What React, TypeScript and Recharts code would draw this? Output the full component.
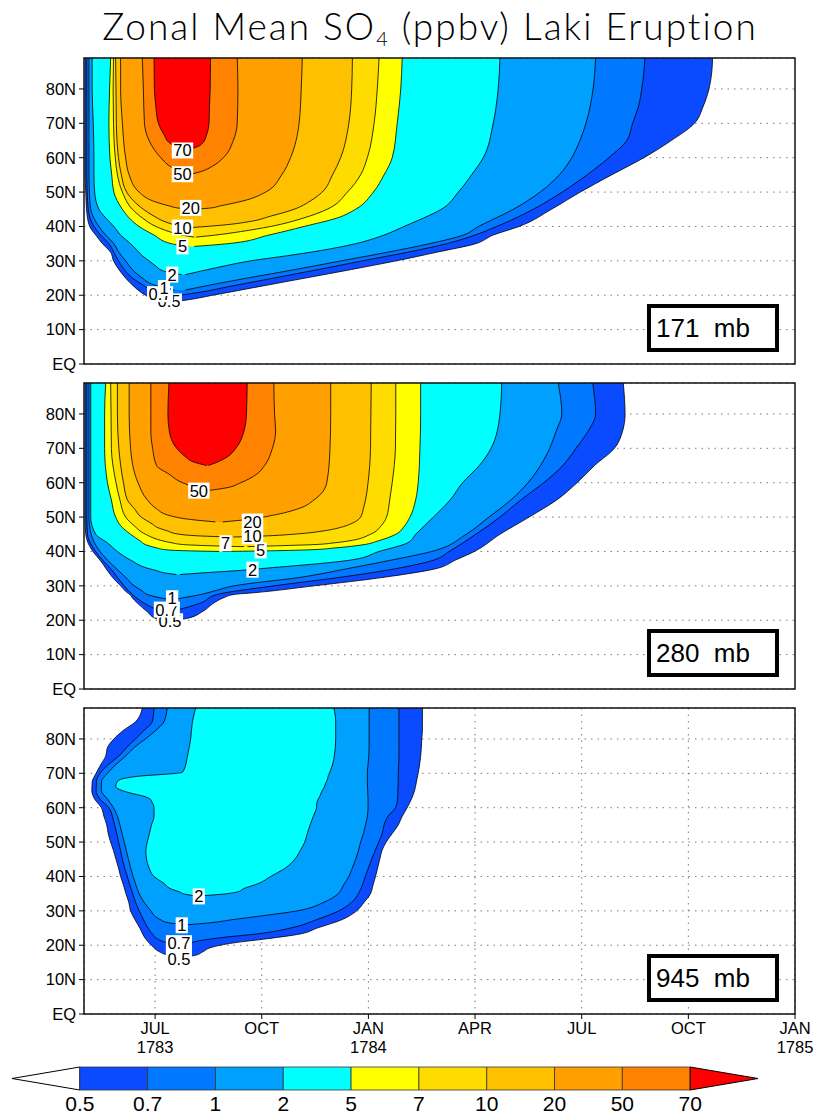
import React from 'react';
import { ComposedChart, Area, XAxis, YAxis, CartesianGrid, Scatter, BarChart, Bar } from 'recharts';

type Pt = [number, number, number]; // [latitude, left edge (month), right edge (month)]

const LEVELS = ['0.5', '0.7', '1', '2', '5', '7', '10', '20', '50', '70'];
const COLORS = ['#0a4bff', '#0078ff', '#00a0ff', '#00ffff', '#ffff00', '#ffdc00', '#ffc000', '#ffa000', '#ff8200', '#ff0000'];

const X_TICKS = [6, 9, 12, 15, 18, 21, 24];
const X_MONTH = ['JUL', 'OCT', 'JAN', 'APR', 'JUL', 'OCT', 'JAN'];
const X_YEAR = ['1783', '', '1784', '', '', '', '1785'];
const Y_TICKS = [0, 10, 20, 30, 40, 50, 60, 70, 80];

// ---------- 171 mb ----------
const P1_05: Pt[] = [[18.0, 6.35, 6.4], [18.5, 6.02, 6.81], [20, 5.73, 7.62], [22.5, 5.41, 8.92], [25, 5.17, 10.23], [27.5, 4.98, 11.53], [30, 4.83, 12.78], [32.5, 4.75, 13.92], [35, 4.52, 15.02], [37.5, 4.33, 15.51], [40, 4.16, 16.24], [45, 4.07, 17.15], [50, 4.05, 17.96], [55, 4.03, 18.84], [60, 4.03, 19.75], [65, 4.03, 20.52], [70, 4.03, 21.17], [75, 4.03, 21.42], [80, 4.03, 21.58], [85, 4.03, 21.66], [89, 4.03, 21.68]];
const P1_07: Pt[] = [[19.8, 6.3, 6.55], [21, 5.92, 7.34], [22.5, 5.73, 8.07], [25, 5.36, 9.34], [27.5, 5.13, 10.61], [30, 4.97, 11.83], [32.5, 4.84, 13.1], [35, 4.7, 14.2], [37.5, 4.47, 15.0], [40, 4.28, 15.61], [45, 4.12, 16.64], [50, 4.09, 17.45], [55, 4.08, 18.15], [60, 4.08, 18.76], [65, 4.08, 19.27], [70, 4.08, 19.43], [75, 4.08, 19.6], [80, 4.08, 19.69], [89, 4.08, 19.78]];
const P1_1: Pt[] = [[21.5, 6.55, 6.85], [23, 5.97, 7.56], [25, 5.64, 8.6], [27.5, 5.36, 9.95], [30, 5.17, 11.24], [32.5, 4.98, 12.53], [35, 4.84, 13.73], [37.5, 4.61, 14.67], [40, 4.42, 15.1], [45, 4.19, 16.08], [50, 4.15, 16.83], [55, 4.14, 17.37], [60, 4.14, 17.72], [65, 4.14, 17.95], [70, 4.14, 18.12], [80, 4.14, 18.32], [89, 4.14, 18.39]];
const P1_2: Pt[] = [[26, 6.75, 6.85], [27, 6.25, 7.28], [28.5, 6.02, 7.94], [30, 5.83, 8.69], [31.5, 5.64, 9.72], [33, 5.5, 10.66], [35, 5.31, 11.64], [37.5, 5.03, 12.44], [40, 4.84, 13.0], [42.5, 4.61, 13.56], [45, 4.42, 14.05], [50, 4.3, 14.53], [55, 4.28, 14.9], [60, 4.28, 15.23], [70, 4.26, 15.51], [80, 4.23, 15.65], [89, 4.23, 15.7]];
const P1_5: Pt[] = [[34.2, 6.95, 7.1], [35, 6.45, 8.05], [37.5, 5.97, 9.2], [40, 5.55, 10.19], [42.5, 5.27, 11.13], [45, 5.08, 11.64], [50, 4.84, 12.14], [55, 4.78, 12.44], [60, 4.73, 12.67], [70, 4.7, 12.81], [80, 4.72, 12.91], [89, 4.75, 12.95]];
const P1_7: Pt[] = [[36.9, 7.1, 7.15], [37.5, 6.75, 7.7], [38.5, 6.4, 8.4], [40, 6.02, 9.25], [42.5, 5.64, 10.19], [45, 5.36, 10.84], [50, 5.08, 11.41], [55, 4.94, 11.78], [60, 4.88, 11.97], [70, 4.83, 12.16], [80, 4.82, 12.25], [89, 4.83, 12.3]];
const P1_10: Pt[] = [[39.7, 6.95, 7.05], [40.5, 6.55, 8.0], [41.5, 6.25, 8.7], [43, 5.97, 9.25], [45, 5.67, 9.91], [47.5, 5.39, 10.38], [50, 5.2, 10.7], [55, 5.05, 10.99], [60, 4.97, 11.22], [70, 4.91, 11.45], [80, 4.9, 11.53], [89, 4.89, 11.55]];
const P1_20: Pt[] = [[45.0, 7.05, 7.1], [45.3, 6.7, 7.5], [46, 6.39, 7.84], [47.5, 5.92, 8.5], [50, 5.55, 9.11], [55, 5.27, 9.56], [60, 5.17, 9.81], [70, 5.08, 10.05], [80, 5.03, 10.11], [89, 5.03, 10.14]];
const P1_50: Pt[] = [[55.3, 7.0, 7.05], [56, 6.7, 7.3], [57.5, 6.42, 7.61], [60, 6.16, 7.92], [65, 5.83, 8.2], [70, 5.7, 8.31], [80, 5.67, 8.33], [89, 5.64, 8.31]];
const P1_70: Pt[] = [[62.5, 6.9, 6.95], [63, 6.67, 7.14], [64.2, 6.42, 7.33], [66.7, 6.25, 7.45], [70.5, 6.08, 7.52], [75, 6.02, 7.53], [80, 5.98, 7.55], [89, 5.97, 7.56]];
const P1_LABELS = [
  { m: 6.39, lat: 18.2, t: '0.5' }, { m: 6.14, lat: 20.3, t: '0.7' }, { m: 6.25, lat: 22.1, t: '1' },
  { m: 6.48, lat: 26.0, t: '2' }, { m: 6.77, lat: 34.2, t: '5' }, { m: 6.77, lat: 39.7, t: '10' },
  { m: 7.0, lat: 45.4, t: '20' }, { m: 6.77, lat: 55.2, t: '50' }, { m: 6.77, lat: 62.1, t: '70' },
];

// ---------- 280 mb ----------
const P2_05: Pt[] = [[19.9, 6.4, 6.5], [20.5, 6.02, 6.88], [22.5, 5.78, 7.33], [25, 5.5, 7.65], [26.5, 5.36, 7.92], [27.5, 5.29, 8.22], [28, 5.22, 8.78], [30, 5.03, 10.47], [32.5, 4.8, 12.44], [35, 4.62, 13.9], [37.5, 4.45, 14.45], [40, 4.25, 14.98], [45, 4.05, 15.7], [50, 4.03, 16.52], [55, 4.03, 17.3], [60, 4.03, 17.87], [65, 4.03, 18.36], [70, 4.03, 18.92], [75, 4.03, 19.15], [80, 4.03, 19.22], [89, 4.03, 19.17]];
const P2_07: Pt[] = [[22.5, 6.3, 6.4], [23.5, 5.97, 6.81], [25, 5.69, 7.28], [27.5, 5.36, 7.75], [30, 5.13, 9.34], [32.5, 4.94, 11.22], [35, 4.75, 12.77], [37.5, 4.52, 13.84], [40, 4.33, 14.27], [45, 4.1, 15.02], [50, 4.08, 15.7], [55, 4.08, 16.29], [60, 4.08, 16.93], [65, 4.08, 17.47], [70, 4.08, 17.84], [75, 4.08, 18.18], [80, 4.08, 18.39], [89, 4.08, 18.31]];
const P2_1: Pt[] = [[26, 6.44, 6.5], [26.5, 6.16, 6.77], [27.5, 5.78, 7.29], [28.5, 5.64, 7.66], [30, 5.41, 8.22], [32.5, 5.17, 10.1], [35, 4.91, 11.41], [37.5, 4.66, 12.65], [40, 4.45, 13.78], [45, 4.2, 14.75], [50, 4.14, 15.39], [55, 4.14, 16.01], [60, 4.14, 16.49], [65, 4.14, 16.84], [70, 4.14, 17.1], [75, 4.14, 17.28], [80, 4.14, 17.44], [89, 4.14, 17.34]];
const P2_2: Pt[] = [[33.3, 6.6, 6.7], [33.8, 6.25, 7.37], [34.5, 6.02, 8.41], [35, 5.83, 8.97], [37.5, 5.31, 11.5], [40, 4.94, 12.3], [42.5, 4.66, 13.1], [45, 4.33, 13.33], [50, 4.19, 13.83], [55, 4.19, 14.3], [60, 4.19, 14.65], [65, 4.19, 15.12], [70, 4.19, 15.45], [80, 4.19, 15.7], [89, 4.19, 15.75]];
const P2_5: Pt[] = [[40.0, 7.8, 7.9], [40.2, 6.9, 9.25], [40.5, 6.3, 10.38], [41, 6.06, 11.03], [42, 5.73, 11.88], [43, 5.59, 12.25], [45, 5.31, 12.77], [47.5, 5.03, 13.02], [50, 4.89, 13.17], [55, 4.77, 13.33], [60, 4.66, 13.4], [70, 4.58, 13.45], [80, 4.58, 13.47], [89, 4.61, 13.47]];
const P2_7: Pt[] = [[41.4, 8.5, 8.6], [41.6, 7.75, 9.25], [42, 6.81, 10.47], [42.5, 6.48, 11.03], [43, 6.25, 11.41], [45, 5.73, 12.06], [47.5, 5.41, 12.36], [50, 5.17, 12.51], [55, 5.01, 12.6], [60, 4.9, 12.67], [70, 4.77, 12.76], [80, 4.76, 12.77], [89, 4.75, 12.77]];
const P2_10: Pt[] = [[44.2, 8.1, 8.2], [44.5, 7.3, 9.06], [45.1, 6.63, 10.0], [46, 6.34, 10.75], [47, 6.06, 11.22], [48, 5.92, 11.5], [50, 5.61, 11.78], [52.5, 5.41, 11.86], [55, 5.22, 11.92], [60, 5.11, 11.99], [70, 4.98, 12.06], [80, 4.94, 12.07], [89, 4.94, 12.08]];
const P2_20: Pt[] = [[48.6, 7.7, 7.9], [49.3, 7.0, 8.6], [50.5, 6.39, 9.3], [52.5, 6.03, 10.05], [55, 5.78, 10.47], [60, 5.52, 10.83], [70, 5.31, 10.92], [80, 5.27, 10.94], [89, 5.27, 10.94]];
const P2_50: Pt[] = [[57.8, 7.5, 7.55], [58.5, 7.2, 8.0], [60, 6.77, 8.41], [62.5, 6.39, 8.86], [65, 6.04, 9.08], [70, 5.93, 9.3], [75, 5.88, 9.39], [80, 5.88, 9.36], [89, 5.88, 9.34]];
const P2_70: Pt[] = [[65, 7.45, 7.5], [66, 7.09, 7.75], [67.5, 6.86, 8.03], [70, 6.61, 8.27], [75, 6.4, 8.5], [80, 6.36, 8.57], [89, 6.39, 8.59]];
const P2_LABELS = [
  { m: 6.42, lat: 19.7, t: '0.5' }, { m: 6.33, lat: 23.1, t: '0.7' }, { m: 6.48, lat: 26.4, t: '1' },
  { m: 8.74, lat: 34.7, t: '2' }, { m: 8.97, lat: 40.3, t: '5' }, { m: 7.98, lat: 42.4, t: '7' },
  { m: 8.74, lat: 44.4, t: '10' }, { m: 8.74, lat: 48.7, t: '20' }, { m: 7.23, lat: 57.7, t: '50' },
];

// ---------- 945 mb ----------
const P3_05: Pt[] = [[16.6, 6.8, 6.85], [17.1, 6.39, 7.14], [18.0, 6.14, 7.33], [19.3, 5.97, 7.56], [20.7, 5.83, 8.22], [21.9, 5.73, 9.16], [23.3, 5.65, 10.09], [25, 5.57, 10.56], [27.5, 5.43, 11.27], [30, 5.31, 11.67], [32.5, 5.26, 11.88], [35, 5.18, 12.06], [37.5, 5.11, 12.13], [40, 5.03, 12.2], [42.5, 4.97, 12.26], [45, 4.9, 12.32], [47.5, 4.83, 12.38], [50, 4.75, 12.5], [52.5, 4.68, 12.67], [55, 4.64, 12.84], [57.5, 4.56, 12.95], [60, 4.49, 13.09], [62.5, 4.3, 13.21], [65, 4.22, 13.3], [67.5, 4.23, 13.35], [70, 4.34, 13.4], [72.5, 4.47, 13.44], [75, 4.61, 13.47], [77.5, 4.66, 13.49], [80, 4.84, 13.5], [82.5, 5.11, 13.52], [85, 5.45, 13.52], [89, 5.64, 13.52]];
const P3_07: Pt[] = [[19.8, 6.72, 6.72], [20.3, 6.5, 6.9], [21, 6.25, 7.1], [22.3, 6.0, 7.94], [23.3, 5.92, 8.88], [25, 5.8, 9.81], [27.5, 5.67, 10.56], [30, 5.55, 11.17], [32.5, 5.45, 11.53], [35, 5.37, 11.72], [37.5, 5.29, 11.83], [40, 5.22, 11.91], [42.5, 5.14, 12.0], [45, 5.08, 12.09], [47.5, 5.03, 12.19], [50, 4.97, 12.29], [52.5, 4.92, 12.39], [55, 4.86, 12.44], [57.5, 4.8, 12.55], [60, 4.7, 12.76], [62.5, 4.45, 12.82], [65, 4.34, 12.83], [67.5, 4.35, 12.84], [70, 4.45, 12.84], [72.5, 4.68, 12.85], [75, 4.98, 12.86], [77.5, 5.2, 12.86], [80, 5.45, 12.86], [82.5, 5.69, 12.86], [85, 5.92, 12.86], [89, 5.97, 12.86]];
const P3_1: Pt[] = [[26.0, 6.95, 6.95], [26.5, 6.39, 7.52], [27.5, 6.14, 8.22], [28.5, 5.99, 8.97], [30, 5.88, 10.0], [32.5, 5.69, 10.75], [35, 5.55, 11.15], [37.5, 5.46, 11.3], [40, 5.38, 11.45], [42.5, 5.31, 11.55], [45, 5.25, 11.64], [47.5, 5.19, 11.72], [50, 5.13, 11.78], [52.5, 5.07, 11.86], [55, 5.01, 11.92], [57.5, 4.94, 11.97], [60, 4.83, 11.99], [62.5, 4.66, 11.99], [65, 4.49, 11.98], [67.5, 4.49, 11.97], [70, 4.66, 11.97], [72.5, 4.89, 11.99], [75, 5.17, 12.01], [77.5, 5.41, 12.02], [80, 5.73, 12.02], [82.5, 6.02, 12.02], [85, 6.25, 12.02], [89, 6.34, 12.02]];
const P3_2: Pt[] = [[34.3, 7.19, 7.19], [34.8, 6.86, 7.84], [35.5, 6.69, 8.31], [36.5, 6.42, 8.5], [38, 6.25, 8.92], [40, 5.97, 9.25], [42.5, 5.83, 9.67], [45, 5.76, 9.93], [47.5, 5.74, 10.08], [50, 5.78, 10.21], [52.5, 5.84, 10.28], [55, 5.9, 10.36], [57.5, 5.97, 10.45], [60, 5.97, 10.54], [61.5, 5.92, 10.55], [62.5, 5.86, 10.59], [63.3, 5.69, 10.63], [64, 5.41, 10.66], [64.8, 5.13, 10.69], [65.5, 4.96, 10.73], [66.3, 4.89, 10.77], [67, 4.91, 10.79], [68, 4.98, 10.84], [68.7, 5.22, 10.86], [69.3, 5.69, 10.87], [69.7, 6.25, 10.89], [70.3, 6.77, 10.91], [71, 6.81, 10.94], [75, 6.91, 11.04], [80, 7.0, 11.08], [85, 7.05, 11.08], [89, 7.14, 11.03]];
const P3_LABELS = [
  { m: 6.67, lat: 16.1, t: '0.5' }, { m: 6.67, lat: 20.6, t: '0.7' }, { m: 6.75, lat: 25.8, t: '1' }, { m: 7.23, lat: 34.2, t: '2' },
];

// colour bar
const CB_DATA = [{ name: 'cb', s0: 1, s1: 1, s2: 1, s3: 1, s4: 1, s5: 1, s6: 1, s7: 1, s8: 1, s9: 1, s10: 1 }];
const CB_TICKS = [1, 2, 3, 4, 5, 6, 7, 8, 9, 10];

const FONT = '"Liberation Sans", Arial, sans-serif';

const toRows = (level: Pt[]) => level.map((p) => ({ lat: p[0], v: [p[1], p[2]] }));

const XTick = (props: any) => {
  const { x, y, payload } = props;
  const i = X_TICKS.indexOf(payload.value);
  return (
    <text x={x} y={y} textAnchor="middle" fontFamily={FONT} fontSize={16.5} fill="#000">
      <tspan x={x} dy={13}>{X_MONTH[i]}</tspan>
      {X_YEAR[i] ? <tspan x={x} dy={19}>{X_YEAR[i]}</tspan> : null}
    </text>
  );
};

const ContourLabel = (props: any) => {
  const { cx, cy, payload } = props;
  const t: string = payload.t;
  const w = t.length * 9.2 - (t.includes('.') ? 4.5 : 0) + 3;
  return (
    <g>
      <rect x={cx - w / 2} y={cy - 8} width={w} height={16} fill="#fff" />
      <text x={cx} y={cy} dy={6} textAnchor="middle" fontFamily={FONT} fontSize={16.5} fill="#000">{t}</text>
    </g>
  );
};

function Panel({ top, levels, labels, mb, showX }: { top: number; levels: Pt[][]; labels: any[]; mb: string; showX: boolean }) {
  const h = showX ? 420 : 380;
  const bottom = showX ? 6 : 16;
  return (
    <div style={{ position: 'absolute', left: 0, top, width: 814, height: h }}>
      <ComposedChart width={814} height={h} layout="vertical" margin={{ top: 58, right: 19, bottom, left: 40 }}>
        <CartesianGrid stroke="#7a7a7a" strokeDasharray="1.5 5" vertical={showX} horizontal />
        <XAxis type="number" dataKey="m" domain={[4, 24]} allowDataOverflow ticks={X_TICKS} interval={0} hide={!showX} height={50}
          axisLine={false} tickLine={{ stroke: '#000' }} tickSize={5} tickMargin={2} tick={<XTick />} />
        <YAxis type="number" dataKey="lat" domain={[0, 89]} allowDataOverflow reversed ticks={Y_TICKS} interval={0} width={44}
          axisLine={false} tickLine={{ stroke: '#000' }} tickSize={5} tickMargin={3}
          tickFormatter={(v: number) => (v === 0 ? 'EQ' : v + 'N')}
          tick={{ fontFamily: FONT, fontSize: 16.5, fill: '#000' }} />
        {levels.map((lv, i) => (
          <Area key={i} data={toRows(lv)} dataKey="v" type="monotone" fill={COLORS[i]} fillOpacity={1} stroke="#000" strokeWidth={0.8}
            dot={false} activeDot={false} isAnimationActive={false} />
        ))}
        <Scatter data={labels} shape={ContourLabel} isAnimationActive={false} />
      </ComposedChart>
      <svg style={{ position: 'absolute', left: 0, top: 0, pointerEvents: 'none' }} width={814} height={h}>
        <rect x={84} y={58} width={711} height={306} fill="none" stroke="#111" strokeWidth={1.5} />
      </svg>
      <div style={{ position: 'absolute', left: 647, top: 304, width: 132, height: 48, border: '4px solid #000', boxSizing: 'border-box', background: '#fff',
        fontFamily: FONT, fontSize: 26, lineHeight: '40px', paddingLeft: 5, whiteSpace: 'pre', color: '#000' }}>{mb}</div>
    </div>
  );
}

const TriLeft = (p: any) => (
  <polygon points={`${p.x + p.width},${p.y} ${p.x},${p.y + p.height / 2} ${p.x + p.width},${p.y + p.height}`} fill="#fff" stroke="#000" strokeWidth={1} />
);
const TriRight = (p: any) => (
  <polygon points={`${p.x},${p.y} ${p.x + p.width},${p.y + p.height / 2} ${p.x},${p.y + p.height}`} fill={COLORS[9]} stroke="#000" strokeWidth={1} />
);

function ColorBar() {
  const keys = ['s0', 's1', 's2', 's3', 's4', 's5', 's6', 's7', 's8', 's9', 's10'];
  return (
    <div style={{ position: 'absolute', left: 0, top: 1060, width: 814, height: 56 }}>
      <BarChart width={814} height={56} layout="vertical" data={CB_DATA} margin={{ top: 7, right: 56, left: 12, bottom: 0 }} barCategoryGap={0}>
        <XAxis type="number" domain={[0, 11]} ticks={CB_TICKS} interval={0} axisLine={false} tickLine={false} height={26} tickSize={4} tickMargin={2}
          tickFormatter={(v: number) => LEVELS[v - 1]} tick={{ fontFamily: FONT, fontSize: 21, fill: '#000' }} />
        <YAxis type="category" dataKey="name" hide />
        {keys.map((k, i) => (
          <Bar key={k} dataKey={k} stackId="a" isAnimationActive={false}
            fill={i === 0 ? '#fff' : COLORS[Math.min(i - 1, 9)]} stroke="#333" strokeWidth={0.8}
            shape={i === 0 ? TriLeft : i === 10 ? TriRight : undefined} />
        ))}
      </BarChart>
    </div>
  );
}

export default function App() {
  return (
    <div style={{ position: 'absolute', left: 0, top: 0, width: 814, height: 1116, background: '#fff', overflow: 'hidden' }}>
      <svg style={{ position: 'absolute', left: 0, top: 0 }} width={814} height={56}>
        <text x={430} y={40} textAnchor="middle" fontFamily="Lato, Roboto, sans-serif" fontWeight={300} fontSize={37} letterSpacing={2} fill="#000">
          Zonal Mean SO<tspan fontSize={20} dy={6}>4</tspan><tspan dy={-6}> (ppbv) Laki Eruption</tspan>
        </text>
      </svg>
      <Panel top={0} levels={[P1_05, P1_07, P1_1, P1_2, P1_5, P1_7, P1_10, P1_20, P1_50, P1_70]} labels={P1_LABELS} mb="171  mb" showX={false} />
      <Panel top={325} levels={[P2_05, P2_07, P2_1, P2_2, P2_5, P2_7, P2_10, P2_20, P2_50, P2_70]} labels={P2_LABELS} mb="280  mb" showX={false} />
      <Panel top={650} levels={[P3_05, P3_07, P3_1, P3_2]} labels={P3_LABELS} mb="945  mb" showX={true} />
      <ColorBar />
    </div>
  );
}
